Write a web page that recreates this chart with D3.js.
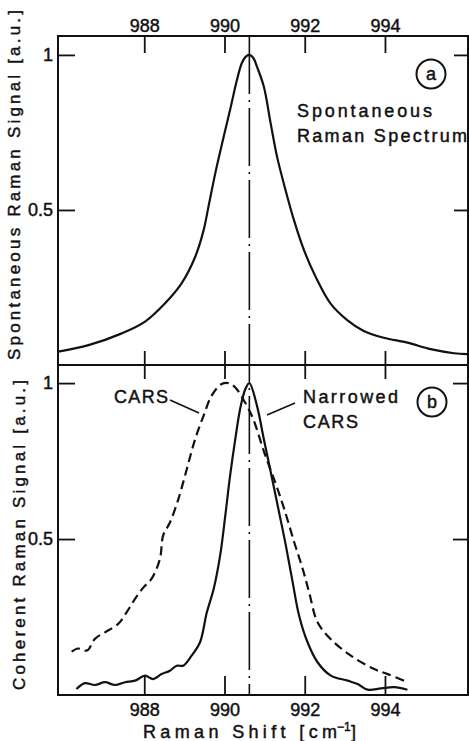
<!DOCTYPE html>
<html>
<head>
<meta charset="utf-8">
<script src="https://cdn.jsdelivr.net/npm/d3@7"></script>
<style>
  html, body { margin: 0; padding: 0; background: #fff; }
  svg { display: block; }
  text { font-family: "Liberation Sans", Arial, sans-serif; fill: #111; stroke: #111; stroke-width: 0.45px; }
</style>
</head>
<body>
<svg id="chart" width="469" height="741"></svg>
<script>
// ---- data ----
const xTicks = [988, 990, 992, 994];
const yTicks = [0.5, 1];
const peakShift = 990.62;

// panel (a): spontaneous Raman spectrum  [shift, signal]
const spontaneous = [
  [985.86,0.043],[986.61,0.064],[987.44,0.102],[988.02,0.140],[988.52,0.199],
  [988.93,0.263],[989.27,0.349],[989.48,0.435],[989.60,0.510],[989.77,0.618],
  [989.98,0.736],[990.14,0.823],[990.31,0.919],[990.43,0.973],[990.52,0.993],
  [990.62,1.000],[990.72,0.990],[990.81,0.962],[990.98,0.898],[991.15,0.780],
  [991.31,0.672],[991.52,0.565],[991.73,0.468],[991.98,0.371],[992.27,0.285],
  [992.64,0.199],[993.06,0.145],[993.47,0.110],[993.97,0.088],[994.56,0.072],
  [995.14,0.051],[995.72,0.038],[996.05,0.035]
];

// panel (b): CARS (dashed)
const cars = [
  [986.19,0.139],[986.35,0.149],[986.50,0.142],[986.60,0.145],[986.77,0.180],
  [987.02,0.201],[987.35,0.228],[987.56,0.265],[987.77,0.308],[987.98,0.345],
  [988.18,0.372],[988.39,0.436],[988.47,0.511],[988.64,0.553],[988.85,0.628],
  [989.06,0.724],[989.27,0.821],[989.48,0.896],[989.68,0.960],[989.93,0.997],
  [990.10,1.000],[990.27,0.986],[990.48,0.945],[990.70,0.890],[990.99,0.778],
  [991.28,0.676],[991.49,0.596],[991.74,0.489],[991.95,0.404],[992.11,0.329],
  [992.32,0.233],[992.65,0.179],[993.15,0.126],[993.73,0.083],[994.07,0.067],
  [994.56,0.041]
];

// panel (b): narrowed CARS (solid)
const narrowedCars = [
  [986.31,0.019],[986.52,0.038],[986.77,0.032],[987.02,0.041],[987.27,0.032],
  [987.52,0.041],[987.77,0.046],[988.02,0.062],[988.22,0.051],[988.43,0.067],
  [988.64,0.078],[988.81,0.094],[988.97,0.094],[989.18,0.126],[989.39,0.169],
  [989.56,0.265],[989.73,0.340],[989.89,0.446],[990.02,0.575],[990.14,0.703],
  [990.27,0.821],[990.39,0.917],[990.52,0.981],[990.62,1.000],[990.81,0.927],
  [990.98,0.821],[991.19,0.692],[991.36,0.586],[991.53,0.479],[991.70,0.361],
  [991.86,0.254],[992.07,0.169],[992.32,0.105],[992.65,0.062],[993.07,0.046],
  [993.32,0.035],[993.57,0.017],[993.90,0.021],[994.23,0.025],[994.56,0.017]
];

// ---- layout ----
const L = 58, R = 468, T = 36, M = 365, B = 695;
const svg = d3.select("#chart");

const x = d3.scaleLinear().domain([985.85, 996.07]).range([L, R]);
const yA = d3.scaleLinear().domain([0, 1.061]).range([M, T]);
const yB = d3.scaleLinear().domain([0, 1.058]).range([B, M]);

const ink = "#111";

// frames
svg.append("rect").attr("x", L).attr("y", T).attr("width", R - L).attr("height", B - T)
  .attr("fill", "none").attr("stroke", ink).attr("stroke-width", 2);
svg.append("line").attr("x1", L).attr("x2", R).attr("y1", M).attr("y2", M)
  .attr("stroke", ink).attr("stroke-width", 2);

function styleAxis(g) {
  g.select(".domain").remove();
  g.selectAll(".tick line").attr("stroke", ink).attr("stroke-width", 1.8);
  g.selectAll(".tick text").attr("fill", ink).attr("font-size", 18)
    .attr("font-family", "Liberation Sans, Arial, sans-serif");
}

// top x axis
svg.append("g").attr("transform", `translate(0,${T})`)
  .call(d3.axisTop(x).tickValues(xTicks).tickSize(-17).tickPadding(4).tickFormat(d3.format("d")))
  .call(styleAxis);

// bottom x axis
svg.append("g").attr("transform", `translate(0,${B})`)
  .call(d3.axisBottom(x).tickValues(xTicks).tickSize(-19).tickPadding(8).tickFormat(d3.format("d")))
  .call(styleAxis);

// middle boundary ticks (both directions)
svg.append("g").attr("transform", `translate(0,${M})`)
  .call(d3.axisTop(x).tickValues(xTicks).tickSize(-14).tickFormat(""))
  .call(styleAxis);
svg.append("g").attr("transform", `translate(0,${M})`)
  .call(d3.axisBottom(x).tickValues(xTicks).tickSize(-14).tickFormat(""))
  .call(styleAxis);

// y axes, panel a
const fmtY = d => d === 1 ? "1" : d3.format(".1f")(d);
svg.append("g").attr("transform", `translate(${L},0)`)
  .call(d3.axisLeft(yA).tickValues(yTicks).tickSize(-17).tickPadding(5).tickFormat(fmtY))
  .call(styleAxis);
svg.append("g").attr("transform", `translate(${R},0)`)
  .call(d3.axisRight(yA).tickValues(yTicks).tickSize(-14).tickFormat(""))
  .call(styleAxis);
// y axes, panel b
svg.append("g").attr("transform", `translate(${L},0)`)
  .call(d3.axisLeft(yB).tickValues(yTicks).tickSize(-17).tickPadding(5).tickFormat(fmtY))
  .call(styleAxis);
svg.append("g").attr("transform", `translate(${R},0)`)
  .call(d3.axisRight(yB).tickValues(yTicks).tickSize(-15).tickFormat(""))
  .call(styleAxis);

// dash-dot line at the peak
svg.append("line")
  .attr("x1", x(peakShift)).attr("x2", x(peakShift)).attr("y1", T).attr("y2", B)
  .attr("stroke", ink).attr("stroke-width", 1.6)
  .attr("stroke-dasharray", "58,6,2,6");

// curves
const lineA = d3.line().x(d => x(d[0])).y(d => yA(d[1])).curve(d3.curveCatmullRom.alpha(0.5));
const lineB = d3.line().x(d => x(d[0])).y(d => yB(d[1])).curve(d3.curveCatmullRom.alpha(0.5));

svg.append("path").datum(spontaneous).attr("d", lineA)
  .attr("fill", "none").attr("stroke", ink).attr("stroke-width", 2.2);
svg.append("path").datum(narrowedCars).attr("d", lineB)
  .attr("fill", "none").attr("stroke", ink).attr("stroke-width", 2.2);
svg.append("path").datum(cars).attr("d", lineB)
  .attr("fill", "none").attr("stroke", ink).attr("stroke-width", 2.2)
  .attr("stroke-dasharray", "9,5");

// annotations
function label(txt, px, py, len, size) {
  svg.append("text").attr("x", px).attr("y", py).attr("font-size", size || 18)
    .attr("textLength", len).attr("lengthAdjust", "spacing").text(txt);
}
label("Spontaneous", 297, 117, 135);
label("Raman Spectrum", 297, 142, 170);
label("CARS", 114, 403, 54);
label("Narrowed", 303, 403, 95);
label("CARS", 303, 428, 55);

// leader lines
svg.append("line").attr("x1", 170).attr("y1", 400).attr("x2", 199).attr("y2", 413)
  .attr("stroke", ink).attr("stroke-width", 1.6);
svg.append("line").attr("x1", 295).attr("y1", 403).attr("x2", 267).attr("y2", 415)
  .attr("stroke", ink).attr("stroke-width", 1.6);

// circled panel letters
[["a", 431, 74], ["b", 432, 402]].forEach(([t, cx, cy]) => {
  svg.append("circle").attr("cx", cx).attr("cy", cy).attr("r", 14.5)
    .attr("fill", "none").attr("stroke", ink).attr("stroke-width", 2);
  svg.append("text").attr("x", cx).attr("y", cy).attr("font-size", 18)
    .attr("text-anchor", "middle").attr("dominant-baseline", "central").text(t);
});

// y-axis titles
svg.append("text")
  .attr("transform", "translate(20,185) rotate(-90)")
  .attr("text-anchor", "middle").attr("font-size", 17)
  .attr("textLength", 350).attr("lengthAdjust", "spacing")
  .text("Spontaneous Raman Signal [a.u.]");
svg.append("text")
  .attr("transform", "translate(25,535) rotate(-90)")
  .attr("text-anchor", "middle").attr("font-size", 17)
  .attr("textLength", 310).attr("lengthAdjust", "spacing")
  .text("Coherent Raman Signal [a.u.]");

// x-axis title
svg.append("text").attr("x", 143).attr("y", 738).attr("font-size", 18)
  .attr("textLength", 194).attr("lengthAdjust", "spacing").text("Raman Shift [cm");
svg.append("text").attr("x", 337).attr("y", 731).attr("font-size", 12).text("−1");
svg.append("text").attr("x", 351).attr("y", 738).attr("font-size", 18).text("]");
</script>
</body>
</html>
